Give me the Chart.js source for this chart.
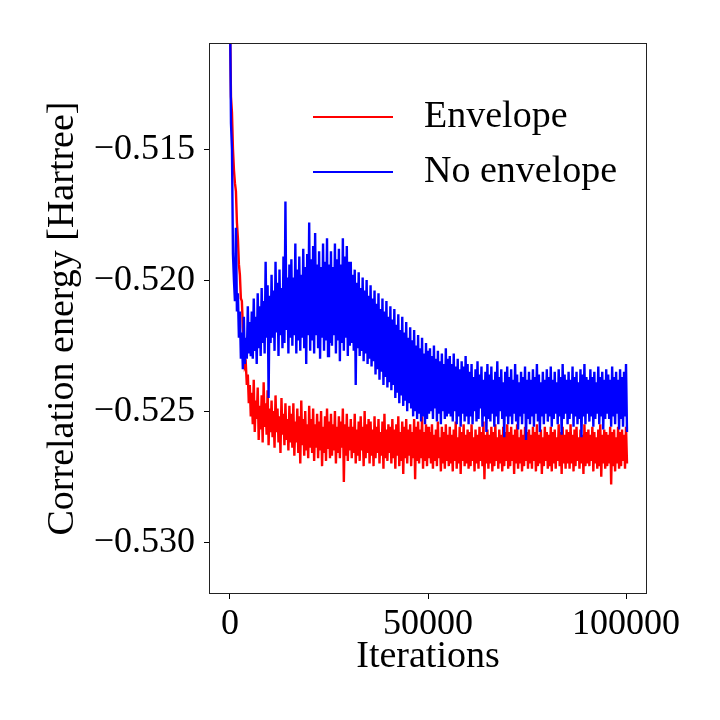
<!DOCTYPE html>
<html>
<head>
<meta charset="utf-8">
<script src="https://cdn.jsdelivr.net/npm/chart.js@4"></script>
<style>
  html, body { margin: 0; padding: 0; background: #fff; }
  #wrap { width: 720px; height: 720px; }
</style>
</head>
<body>
<div id="wrap"><canvas id="grafico" width="720" height="720"></canvas></div>
<script>
// one reading of the noisy band every 500 iterations:
// upper edge at the bin start, lower edge half a bin later
const step = 500;
const iterations = Array.from({ length: 201 }, (_, i) => i * step);

const envelopeTop = [
  -0.5100, -0.5136, -0.5158, -0.5166, -0.5184, -0.5198, -0.5208, -0.5222, -0.5232, -0.5236, -0.5240,
  -0.5243, -0.5238, -0.5246, -0.5241, -0.5248, -0.5244, -0.5239, -0.5247, -0.5242, -0.5249,
  -0.5246, -0.5250, -0.5244, -0.5249, -0.5252, -0.5245, -0.5251, -0.5247, -0.5253, -0.5248,
  -0.5251, -0.5247, -0.5254, -0.5249, -0.5252, -0.5246, -0.5253, -0.5250, -0.5255, -0.5248,
  -0.5253, -0.5249, -0.5255, -0.5251, -0.5254, -0.5250, -0.5256, -0.5252, -0.5249, -0.5254,
  -0.5251, -0.5255, -0.5250, -0.5256, -0.5252, -0.5254, -0.5249, -0.5255, -0.5251, -0.5256,
  -0.5253, -0.5256, -0.5251, -0.5257, -0.5254, -0.5252, -0.5256, -0.5250, -0.5255, -0.5253,
  -0.5254, -0.5257, -0.5252, -0.5256, -0.5253, -0.5258, -0.5254, -0.5251, -0.5257, -0.5255,
  -0.5256, -0.5253, -0.5257, -0.5255, -0.5252, -0.5258, -0.5254, -0.5256, -0.5253, -0.5257,
  -0.5255, -0.5258, -0.5253, -0.5256, -0.5254, -0.5257, -0.5252, -0.5258, -0.5255, -0.5256,
  -0.5258, -0.5255, -0.5259, -0.5257, -0.5254, -0.5260, -0.5256, -0.5258, -0.5255, -0.5259,
  -0.5256, -0.5259, -0.5257, -0.5254, -0.5260, -0.5256, -0.5258, -0.5255, -0.5259, -0.5257,
  -0.5258, -0.5255, -0.5260, -0.5257, -0.5259, -0.5256, -0.5258, -0.5254, -0.5259, -0.5257,
  -0.5259, -0.5256, -0.5258, -0.5255, -0.5260, -0.5257, -0.5259, -0.5256, -0.5258, -0.5255,
  -0.5258, -0.5256, -0.5259, -0.5257, -0.5255, -0.5260, -0.5257, -0.5259, -0.5256, -0.5258,
  -0.5257, -0.5259, -0.5256, -0.5258, -0.5255, -0.5259, -0.5257, -0.5260, -0.5256, -0.5258,
  -0.5259, -0.5256, -0.5258, -0.5257, -0.5260, -0.5255, -0.5258, -0.5256, -0.5259, -0.5257,
  -0.5258, -0.5255, -0.5259, -0.5257, -0.5256, -0.5260, -0.5257, -0.5259, -0.5255, -0.5258,
  -0.5257, -0.5259, -0.5256, -0.5258, -0.5260, -0.5257, -0.5255, -0.5259, -0.5257, -0.5258,
  -0.5259, -0.5256, -0.5258, -0.5257, -0.5260, -0.5256, -0.5258, -0.5257, -0.5259, -0.5256
];

const envelopeBottom = [
  -0.5130, -0.5150, -0.5163, -0.5178, -0.5194, -0.5207, -0.5218, -0.5233, -0.5240, -0.5247, -0.5252,
  -0.5255, -0.5258, -0.5253, -0.5261, -0.5257, -0.5262, -0.5256, -0.5259, -0.5263, -0.5258,
  -0.5260, -0.5264, -0.5258, -0.5262, -0.5266, -0.5259, -0.5263, -0.5261, -0.5265, -0.5262,
  -0.5264, -0.5267, -0.5262, -0.5266, -0.5270, -0.5263, -0.5267, -0.5265, -0.5268, -0.5264,
  -0.5266, -0.5269, -0.5264, -0.5268, -0.5265, -0.5271, -0.5266, -0.5269, -0.5264, -0.5268,
  -0.5267, -0.5265, -0.5270, -0.5266, -0.5268, -0.5264, -0.5277, -0.5267, -0.5269, -0.5265,
  -0.5268, -0.5266, -0.5270, -0.5267, -0.5269, -0.5265, -0.5271, -0.5268, -0.5266, -0.5270,
  -0.5267, -0.5271, -0.5268, -0.5266, -0.5270, -0.5267, -0.5272, -0.5268, -0.5269, -0.5266,
  -0.5270, -0.5268, -0.5272, -0.5267, -0.5271, -0.5269, -0.5274, -0.5268, -0.5270, -0.5267,
  -0.5271, -0.5268, -0.5276, -0.5269, -0.5270, -0.5268, -0.5272, -0.5269, -0.5271, -0.5268,
  -0.5270, -0.5272, -0.5269, -0.5271, -0.5268, -0.5273, -0.5270, -0.5272, -0.5269, -0.5271,
  -0.5270, -0.5273, -0.5269, -0.5272, -0.5270, -0.5274, -0.5269, -0.5271, -0.5270, -0.5272,
  -0.5271, -0.5269, -0.5273, -0.5270, -0.5272, -0.5269, -0.5271, -0.5276, -0.5270, -0.5272,
  -0.5270, -0.5273, -0.5271, -0.5269, -0.5272, -0.5270, -0.5273, -0.5271, -0.5269, -0.5272,
  -0.5271, -0.5269, -0.5274, -0.5270, -0.5272, -0.5270, -0.5273, -0.5271, -0.5269, -0.5272,
  -0.5270, -0.5272, -0.5269, -0.5273, -0.5271, -0.5270, -0.5274, -0.5271, -0.5269, -0.5272,
  -0.5271, -0.5273, -0.5270, -0.5272, -0.5269, -0.5271, -0.5274, -0.5270, -0.5272, -0.5270,
  -0.5272, -0.5270, -0.5273, -0.5271, -0.5269, -0.5272, -0.5270, -0.5274, -0.5271, -0.5270,
  -0.5271, -0.5269, -0.5273, -0.5270, -0.5272, -0.5271, -0.5275, -0.5270, -0.5272, -0.5271,
  -0.5270, -0.5278, -0.5271, -0.5273, -0.5270, -0.5272, -0.5271, -0.5269, -0.5272, -0.5270
];

const noEnvelopeTop = [
  -0.5095, -0.5150, -0.5200, -0.5180, -0.5205, -0.5212, -0.5220, -0.5214, -0.5222, -0.5210, -0.5216,
  -0.5212, -0.5207, -0.5214, -0.5205, -0.5210, -0.5203, -0.5208, -0.5193, -0.5202, -0.5206,
  -0.5198, -0.5204, -0.5193, -0.5201, -0.5196, -0.5203, -0.5191, -0.5170, -0.5199, -0.5194,
  -0.5192, -0.5199, -0.5186, -0.5196, -0.5191, -0.5198, -0.5188, -0.5195, -0.5190, -0.5178,
  -0.5192, -0.5187, -0.5182, -0.5194, -0.5189, -0.5195, -0.5186, -0.5193, -0.5184, -0.5194,
  -0.5189, -0.5195, -0.5186, -0.5192, -0.5188, -0.5194, -0.5184, -0.5191, -0.5187, -0.5193,
  -0.5193, -0.5198, -0.5196, -0.5201, -0.5197, -0.5203, -0.5199, -0.5204, -0.5200, -0.5206,
  -0.5202, -0.5207, -0.5204, -0.5209, -0.5205, -0.5211, -0.5207, -0.5212, -0.5208, -0.5214,
  -0.5210, -0.5215, -0.5211, -0.5217, -0.5213, -0.5219, -0.5214, -0.5220, -0.5216, -0.5222,
  -0.5218, -0.5223, -0.5219, -0.5225, -0.5221, -0.5226, -0.5222, -0.5228, -0.5224, -0.5227,
  -0.5226, -0.5229, -0.5225, -0.5230, -0.5227, -0.5231, -0.5228, -0.5232, -0.5226, -0.5230,
  -0.5229, -0.5232, -0.5228, -0.5233, -0.5230, -0.5234, -0.5231, -0.5233, -0.5229, -0.5232,
  -0.5235, -0.5232, -0.5237, -0.5234, -0.5231, -0.5236, -0.5233, -0.5238, -0.5235, -0.5232,
  -0.5236, -0.5233, -0.5238, -0.5235, -0.5231, -0.5237, -0.5234, -0.5239, -0.5235, -0.5233,
  -0.5237, -0.5234, -0.5238, -0.5232, -0.5236, -0.5239, -0.5235, -0.5237, -0.5233, -0.5238,
  -0.5235, -0.5238, -0.5234, -0.5237, -0.5232, -0.5236, -0.5239, -0.5235, -0.5238, -0.5234,
  -0.5237, -0.5233, -0.5238, -0.5235, -0.5239, -0.5234, -0.5237, -0.5232, -0.5236, -0.5238,
  -0.5235, -0.5238, -0.5233, -0.5237, -0.5235, -0.5239, -0.5234, -0.5236, -0.5232, -0.5237,
  -0.5238, -0.5234, -0.5237, -0.5235, -0.5239, -0.5233, -0.5237, -0.5235, -0.5238, -0.5234,
  -0.5236, -0.5238, -0.5233, -0.5237, -0.5235, -0.5238, -0.5234, -0.5237, -0.5235, -0.5232
];

const noEnvelopeBottom = [
  -0.5140, -0.5190, -0.5208, -0.5212, -0.5222, -0.5230, -0.5234, -0.5232, -0.5230, -0.5228, -0.5229,
  -0.5230, -0.5227, -0.5232, -0.5226, -0.5229, -0.5224, -0.5228, -0.5222, -0.5245, -0.5224,
  -0.5222, -0.5227, -0.5220, -0.5229, -0.5221, -0.5226, -0.5224, -0.5219, -0.5228, -0.5222,
  -0.5225, -0.5221, -0.5228, -0.5223, -0.5227, -0.5222, -0.5226, -0.5232, -0.5221, -0.5227,
  -0.5223, -0.5228, -0.5221, -0.5226, -0.5230, -0.5222, -0.5227, -0.5223, -0.5229, -0.5224,
  -0.5225, -0.5221, -0.5228, -0.5223, -0.5231, -0.5224, -0.5227, -0.5222, -0.5229, -0.5225,
  -0.5224, -0.5227, -0.5240, -0.5226, -0.5229, -0.5227, -0.5231, -0.5228, -0.5232, -0.5230,
  -0.5233, -0.5231, -0.5236, -0.5234, -0.5238, -0.5235, -0.5240, -0.5237, -0.5241, -0.5239,
  -0.5242, -0.5240, -0.5245, -0.5243, -0.5247, -0.5244, -0.5248, -0.5246, -0.5250, -0.5247,
  -0.5249, -0.5252, -0.5250, -0.5253, -0.5251, -0.5254, -0.5252, -0.5255, -0.5253, -0.5251,
  -0.5250, -0.5253, -0.5249, -0.5254, -0.5251, -0.5255, -0.5250, -0.5253, -0.5252, -0.5251,
  -0.5252, -0.5254, -0.5250, -0.5255, -0.5252, -0.5256, -0.5251, -0.5254, -0.5252, -0.5255,
  -0.5252, -0.5255, -0.5250, -0.5254, -0.5253, -0.5249, -0.5256, -0.5252, -0.5258, -0.5253,
  -0.5254, -0.5251, -0.5256, -0.5252, -0.5255, -0.5250, -0.5253, -0.5260, -0.5252, -0.5255,
  -0.5252, -0.5255, -0.5251, -0.5254, -0.5257, -0.5252, -0.5255, -0.5251, -0.5261, -0.5253,
  -0.5255, -0.5252, -0.5256, -0.5251, -0.5254, -0.5258, -0.5252, -0.5255, -0.5251, -0.5254,
  -0.5252, -0.5256, -0.5253, -0.5251, -0.5255, -0.5252, -0.5259, -0.5253, -0.5251, -0.5255,
  -0.5253, -0.5251, -0.5256, -0.5252, -0.5255, -0.5253, -0.5260, -0.5252, -0.5255, -0.5251,
  -0.5254, -0.5252, -0.5256, -0.5253, -0.5251, -0.5255, -0.5252, -0.5257, -0.5253, -0.5251,
  -0.5253, -0.5256, -0.5252, -0.5255, -0.5251, -0.5257, -0.5253, -0.5256, -0.5252, -0.5258
];

const xTicks = [0, 50000, 100000];
const yTicks = [-0.530, -0.525, -0.520, -0.515];

const serif = "'Liberation Serif', 'DejaVu Serif', serif";

// alternate upper / lower readings so the line sweeps the band
function band(top, bottom) {
  const out = [];
  top.forEach((t, i) => {
    out.push({ x: iterations[i], y: t });
    out.push({ x: iterations[i] + step / 2, y: bottom[i] });
  });
  return out;
}

// frame round the plot + legend drawn inside the axes
const framePlugin = {
  id: "frame",
  afterDraw(chart) {
    const { ctx, chartArea: a } = chart;
    ctx.save();
    ctx.strokeStyle = "#222";
    ctx.lineWidth = 1;
    ctx.strokeRect(a.left + 0.5, a.top + 0.5, a.right - a.left - 1, a.bottom - a.top - 1);

    const rows = chart.data.datasets.map((d, i) => ({ label: d.label, color: d.borderColor, y: a.top + 74 + i * 55 }));
    ctx.font = "38px " + serif;
    ctx.textBaseline = "middle";
    ctx.textAlign = "left";
    rows.forEach(r => {
      ctx.strokeStyle = r.color;
      ctx.lineWidth = 2;
      ctx.beginPath();
      ctx.moveTo(a.left + 104, r.y);
      ctx.lineTo(a.left + 184, r.y);
      ctx.stroke();
      ctx.fillStyle = "#000";
      ctx.fillText(r.label, a.left + 215, r.y);
    });
    ctx.restore();
  }
};

const ctx = document.getElementById("grafico").getContext("2d");
new Chart(ctx, {
  type: "line",
  data: {
    datasets: [{
      label: "Envelope",
      data: band(envelopeTop, envelopeBottom),
      borderColor: "#ff0000",
      borderWidth: 2.4,
      pointRadius: 0,
      tension: 0,
      order: 2
    }, {
      label: "No envelope",
      data: band(noEnvelopeTop, noEnvelopeBottom),
      borderColor: "#0000ff",
      borderWidth: 2.4,
      pointRadius: 0,
      tension: 0,
      order: 1
    }]
  },
  options: {
    responsive: false,
    animation: false,
    layout: { padding: { top: 43, right: 73, left: 0, bottom: 0 } },
    plugins: { legend: { display: false }, tooltip: { enabled: false } },
    scales: {
      x: {
        type: "linear",
        min: -5300,
        max: 105300,
        afterFit: s => { s.height = 126; },
        afterBuildTicks: s => { s.ticks = xTicks.map(v => ({ value: v })); },
        grid: { drawOnChartArea: false, drawTicks: true, tickLength: 5, color: "#000" },
        border: { display: false },
        ticks: { color: "#000", padding: 4, maxRotation: 0, font: { family: serif, size: 36 }, callback: v => String(v) },
        title: { display: true, text: "Iterations", color: "#000", font: { family: serif, size: 38 }, padding: { top: 0, bottom: 40 } }
      },
      y: {
        type: "linear",
        min: -0.53198,
        max: -0.51095,
        afterFit: s => { s.width = 209; },
        afterBuildTicks: s => { s.ticks = yTicks.map(v => ({ value: v })); },
        grid: { drawOnChartArea: false, drawTicks: true, tickLength: 5, color: "#000" },
        border: { display: false },
        ticks: { color: "#000", padding: 9, font: { family: serif, size: 36 }, callback: v => "\u2212" + Math.abs(v).toFixed(3) },
        title: { display: true, text: "Correlation energy [Hartree]", color: "#000", font: { family: serif, size: 38 }, padding: { top: 40, bottom: 0 } }
      }
    }
  },
  plugins: [framePlugin]
});
</script>
</body>
</html>
